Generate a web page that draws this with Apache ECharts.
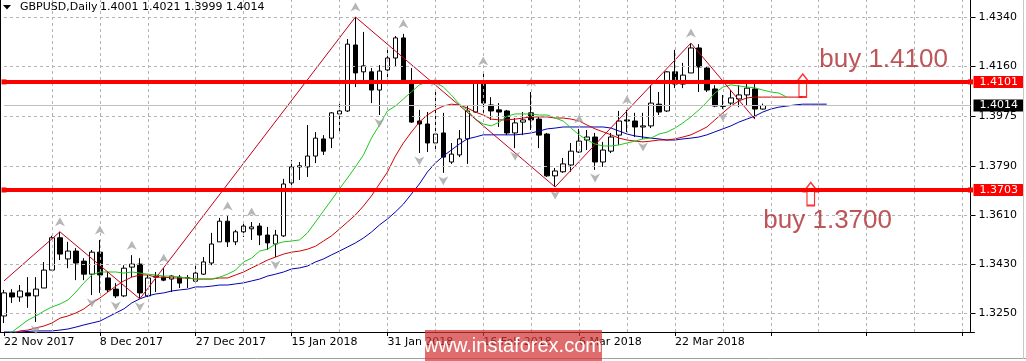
<!DOCTYPE html>
<html><head><meta charset="utf-8">
<script src="https://cdn.jsdelivr.net/npm/echarts@6/dist/echarts.min.js"></script>
<style>html,body{margin:0;padding:0;background:#fff}#c{width:1026px;height:361px}</style>
</head><body><div id="c"></div>
<script>
const symbolName = 'GBPUSD,Daily';
const dates = ['22 Nov 2017','23 Nov 2017','24 Nov 2017','27 Nov 2017','28 Nov 2017','29 Nov 2017','30 Nov 2017',
'1 Dec 2017','4 Dec 2017','5 Dec 2017','6 Dec 2017','7 Dec 2017','8 Dec 2017','11 Dec 2017','12 Dec 2017','13 Dec 2017','14 Dec 2017','15 Dec 2017','18 Dec 2017','19 Dec 2017','20 Dec 2017','21 Dec 2017','22 Dec 2017','26 Dec 2017','27 Dec 2017','28 Dec 2017','29 Dec 2017',
'2 Jan 2018','3 Jan 2018','4 Jan 2018','5 Jan 2018','8 Jan 2018','9 Jan 2018','10 Jan 2018','11 Jan 2018','12 Jan 2018','15 Jan 2018','16 Jan 2018','17 Jan 2018','18 Jan 2018','19 Jan 2018','22 Jan 2018','23 Jan 2018','24 Jan 2018','25 Jan 2018','26 Jan 2018','29 Jan 2018','30 Jan 2018','31 Jan 2018',
'1 Feb 2018','2 Feb 2018','5 Feb 2018','6 Feb 2018','7 Feb 2018','8 Feb 2018','9 Feb 2018','12 Feb 2018','13 Feb 2018','14 Feb 2018','15 Feb 2018','16 Feb 2018','19 Feb 2018','20 Feb 2018','21 Feb 2018','22 Feb 2018','23 Feb 2018','26 Feb 2018','27 Feb 2018','28 Feb 2018',
'1 Mar 2018','2 Mar 2018','5 Mar 2018','6 Mar 2018','7 Mar 2018','8 Mar 2018','9 Mar 2018','12 Mar 2018','13 Mar 2018','14 Mar 2018','15 Mar 2018','16 Mar 2018','19 Mar 2018','20 Mar 2018','21 Mar 2018','22 Mar 2018','23 Mar 2018','26 Mar 2018','27 Mar 2018','28 Mar 2018','29 Mar 2018','30 Mar 2018',
'2 Apr 2018','3 Apr 2018','4 Apr 2018','5 Apr 2018','6 Apr 2018'];

const opens = [1.3239,1.3324,1.3309,1.3324,1.3313,1.3342,1.3408,1.3527,1.3449,1.3478,
1.3441,1.3393,1.3474,1.3379,1.3338,1.3313,1.3419,1.3430,1.3313,1.3382,
1.3382,1.3375,1.3382,1.3379,1.3367,1.3393,1.3434,1.3512,1.3588,1.3512,
1.3549,1.3560,1.3570,1.3537,1.3504,1.3534,1.3729,1.3788,1.3788,1.3828,
1.3891,1.3894,1.3983,1.3994,1.4237,1.4138,1.4138,1.4071,1.4145,1.4189,
1.4263,1.4100,1.3957,1.3946,1.3876,1.3913,1.3806,1.3832,1.3891,1.3990,
1.4097,1.4016,1.3998,1.3994,1.3913,1.3953,1.3987,1.3964,1.3909,1.3755,
1.3770,1.3795,1.3843,1.3887,1.3898,1.3806,1.3846,1.3905,1.3961,1.3957,
1.3935,1.3939,1.4019,1.3994,1.4138,1.4093,1.4134,1.4226,1.4152,1.4075,
1.4012,1.4023,1.4038,1.4053,1.4075,1.4001];
const closes = [1.3324,1.3309,1.3331,1.3313,1.3338,1.3408,1.3527,1.3467,1.3478,1.3434,
1.3393,1.3474,1.3390,1.3335,1.3313,1.3415,1.3430,1.3324,1.3379,1.3386,
1.3371,1.3386,1.3360,1.3380,1.3397,1.3438,1.3504,1.3588,1.3512,1.3549,
1.3570,1.3567,1.3537,1.3508,1.3537,1.3725,1.3788,1.3792,1.3828,1.3894,
1.3846,1.3987,1.3994,1.4240,1.4134,1.4160,1.4071,1.4141,1.4189,1.4263,
1.4104,1.3953,1.3946,1.3876,1.3909,1.3824,1.3835,1.3891,1.3994,1.4097,
1.4023,1.3994,1.3990,1.3913,1.3950,1.3961,1.3961,1.3905,1.3755,1.3773,
1.3799,1.3846,1.3883,1.3898,1.3806,1.3850,1.3898,1.3957,1.3957,1.3935,
1.3939,1.4023,1.3990,1.4138,1.4093,1.4126,1.4226,1.4156,1.4071,1.4012,
1.4011,1.4042,1.4053,1.4078,1.4001,1.4014];
const highs = [1.3335,1.3338,1.3353,1.3382,1.3382,1.3438,1.3534,1.3549,1.3512,1.3489,
1.3452,1.3482,1.3519,1.3401,1.3360,1.3426,1.3463,1.3452,1.3390,1.3401,
1.3415,1.3390,1.3390,1.3390,1.3430,1.3456,1.3545,1.3600,1.3607,1.3556,
1.3581,1.3585,1.3581,1.3567,1.3556,1.3744,1.3813,1.3806,1.3942,1.3916,
1.3905,1.3990,1.4027,1.4259,1.4340,1.4285,1.4152,1.4163,1.4229,1.4270,
1.4278,1.4152,1.3998,1.3990,1.4064,1.3987,1.3876,1.3924,1.4012,1.4101,
1.4141,1.4045,1.4023,1.3998,1.3968,1.3990,1.4064,1.3972,1.3913,1.3784,
1.3821,1.3876,1.3928,1.3924,1.3913,1.3880,1.3913,1.3994,1.3998,1.3987,
1.3987,1.4089,1.4064,1.4141,1.4219,1.4171,1.4244,1.4240,1.4156,1.4089,
1.4053,1.4071,1.4089,1.4097,1.4097,1.4021];
const lows = [1.3213,1.3287,1.3291,1.3269,1.3217,1.3342,1.3408,1.3445,1.3415,1.3371,
1.3371,1.3316,1.3324,1.3327,1.3305,1.3309,1.3382,1.3302,1.3309,1.3327,
1.3367,1.3327,1.3342,1.3342,1.3364,1.3390,1.3426,1.3512,1.3493,1.3500,
1.3530,1.3519,1.3500,1.3482,1.3456,1.3530,1.3721,1.3740,1.3751,1.3802,
1.3832,1.3857,1.3913,1.3990,1.4082,1.4108,1.4023,1.3979,1.4119,1.4156,
1.4097,1.3950,1.3839,1.3843,1.3843,1.3766,1.3799,1.3824,1.3799,1.3987,
1.3987,1.3961,1.3935,1.3905,1.3857,1.3905,1.3924,1.3857,1.3751,1.3714,
1.3766,1.3770,1.3839,1.3850,1.3777,1.3788,1.3839,1.3869,1.3916,1.3898,
1.3891,1.3931,1.3979,1.3990,1.4078,1.4078,1.4134,1.4064,1.4064,1.4008,
1.4001,1.4016,1.4008,1.4012,1.3964,1.3999];

// Alligator (already shifted forward, as drawn)
const jaw = [1.3180,1.3180,1.3180,1.3182,1.3184,1.3184,1.3184,1.3187,1.3191,1.3198,
1.3206,1.3213,1.3220,1.3235,1.3250,1.3265,1.3287,1.3302,1.3313,1.3320,
1.3324,1.3331,1.3335,1.3338,1.3346,1.3346,1.3349,1.3353,1.3353,1.3357,
1.3361,1.3368,1.3375,1.3386,1.3393,1.3401,1.3412,1.3416,1.3423,1.3438,
1.3449,1.3464,1.3478,1.3493,1.3508,1.3526,1.3548,1.3574,1.3596,1.3622,
1.3651,1.3688,1.3725,1.3769,1.3802,1.3828,1.3850,1.3872,1.3891,1.3898,
1.3906,1.3906,1.3906,1.3906,1.3906,1.3909,1.3913,1.3920,1.3928,1.3931,
1.3935,1.3935,1.3935,1.3935,1.3935,1.3935,1.3931,1.3920,1.3909,1.3902,
1.3898,1.3894,1.3891,1.3887,1.3887,1.3891,1.3894,1.3898,1.3906,1.3917,
1.3928,1.3939,1.3953,1.3964,1.3975,1.3990,1.4001,1.4008,1.4012,1.4016,
1.4019,1.4019,1.4019,1.4019];
const teeth = [1.3169,1.3173,1.3184,1.3187,1.3195,1.3202,1.3213,1.3231,1.3239,1.3250,
1.3265,1.3287,1.3305,1.3327,1.3349,1.3368,1.3382,1.3390,1.3390,1.3382,
1.3382,1.3379,1.3379,1.3379,1.3375,1.3375,1.3375,1.3379,1.3379,1.3390,
1.3401,1.3416,1.3430,1.3445,1.3456,1.3467,1.3474,1.3478,1.3485,1.3496,
1.3515,1.3534,1.3559,1.3585,1.3611,1.3644,1.3681,1.3725,1.3769,1.3828,
1.3876,1.3916,1.3953,1.3979,1.3998,1.4012,1.4019,1.4016,1.4005,1.3990,
1.3979,1.3964,1.3961,1.3961,1.3964,1.3968,1.3972,1.3972,1.3972,1.3968,
1.3968,1.3964,1.3957,1.3942,1.3928,1.3917,1.3906,1.3894,1.3887,1.3883,
1.3880,1.3883,1.3887,1.3887,1.3891,1.3898,1.3906,1.3920,1.3935,1.3961,
1.3987,1.4012,1.4031,1.4042,1.4045,1.4045,1.4045,1.4045,1.4045,1.4045,
1.4045];
const lips = [1.3165,1.3180,1.3202,1.3224,1.3239,1.3257,1.3272,1.3283,1.3298,1.3327,
1.3361,1.3390,1.3401,1.3401,1.3401,1.3397,1.3401,1.3397,1.3393,1.3390,
1.3386,1.3386,1.3382,1.3379,1.3375,1.3375,1.3375,1.3382,1.3393,1.3408,
1.3438,1.3452,1.3478,1.3485,1.3504,1.3512,1.3515,1.3519,1.3545,1.3585,
1.3626,1.3666,1.3707,1.3747,1.3788,1.3832,1.3894,1.3942,1.3994,1.4012,
1.4038,1.4064,1.4090,1.4101,1.4101,1.4082,1.4053,1.4019,1.3998,1.3964,
1.3946,1.3939,1.3953,1.3975,1.3983,1.3983,1.3983,1.3979,1.3979,1.3968,
1.3957,1.3931,1.3906,1.3887,1.3872,1.3865,1.3865,1.3869,1.3876,1.3883,
1.3891,1.3894,1.3909,1.3916,1.3931,1.3950,1.3972,1.3998,1.4027,1.4060,
1.4082,1.4090,1.4086,1.4082,1.4079,1.4071,1.4064,1.4060,1.4045];

const zigzag = [[0,1.3368],[7,1.3549],[17,1.3302],[44,1.4340],[69,1.3714],[86,1.4244],[94,1.3964]];
const fractalUp = [7,12,16,20,28,31,44,50,54,60,66,72,78,86];
const fractalDown = [4,11,14,17,34,47,52,55,64,69,74,80,90];

const yTicks = [1.4340,1.4160,1.3975,1.3790,1.3610,1.3430,1.3250];
const levels = [1.4101,1.3703];
const lastPrice = 1.4014;
const buyNotes = [{name:'buy 1.4100', value:[102,1.4182]},{name:'buy 1.3700', value:[95,1.3589]}];
const buyArrows = [[100,1.4088],[101,1.3688]];

const Y_MIN = 1.3180, Y_MAX = 1.44026;
const N = 122;
const cats = dates.slice();
for (let i = dates.length; i < N; i++) cats.push('~' + i);

const font = 'DejaVu Sans';
const upArrow = 'path://M5,0 L10,9 L5,6.5 L0,9 Z';
const downArrow = 'path://M0,0 L5,2.5 L10,0 L5,9 Z';
const buyArrowPath = 'path://M6.5,0 L13,9 L10,9 L10,23 L3,23 L3,9 L0,9 Z';

const vGrid = [];
for (let i = 6; i < N; i += 6) vGrid.push({xAxis: i});
const hGrid = yTicks.map(v => [{coord:[0, v]}, {coord:[N - 1, v]}]);

const chart = echarts.init(document.getElementById('c'), null, {renderer:'canvas'});
const last = opens.length - 1;
chart.setOption({
  animation: false,
  backgroundColor: '#ffffff',
  grid: {left: -1.5, top: 0, width: 976, height: 332, containLabel: false},
  xAxis: {
    type: 'category', data: cats, boundaryGap: true,
    axisLine: {show: true, lineStyle: {color: '#000', width: 1}},
    axisTick: {show: true, interval: 11, alignWithLabel: true, length: 4, lineStyle: {color: '#000'}},
    axisLabel: {interval: 11, align: 'left', margin: 5, color: '#000', fontSize: 11, fontFamily: font,
      formatter: v => (v.charAt(0) === '~' ? '' : v)},
    splitLine: {show: false}
  },
  yAxis: {
    type: 'value', position: 'right', min: Y_MIN, max: Y_MAX, offset: -4,
    axisLine: {show: true, lineStyle: {color: '#000', width: 1}},
    axisTick: {show: true, length: 5, customValues: yTicks, lineStyle: {color: '#000'}},
    axisLabel: {customValues: yTicks, margin: 8, color: '#000', fontSize: 11, fontFamily: font,
      formatter: v => v.toFixed(4)},
    splitLine: {show: false}
  },
  graphic: [
    {type: 'line', shape: {x1: 0.5, y1: 0, x2: 0.5, y2: 332}, style: {stroke: '#000', lineWidth: 1}, z: 10},
    {type: 'line', shape: {x1: 0, y1: 358.5, x2: 1026, y2: 358.5}, style: {stroke: '#a0a0a0', lineWidth: 1}, z: 10},
    {type: 'line', shape: {x1: 1023.5, y1: 0, x2: 1023.5, y2: 359}, style: {stroke: '#c8c8c8', lineWidth: 1}, z: 10},
    {type: 'polygon', shape: {points: [[3, 5], [11, 5], [7, 9.5]]}, style: {fill: '#000'}, z: 10},
    {type: 'text', x: 20, y: 7, style: {text: symbolName, font: '11px ' + font, fill: '#000', textVerticalAlign: 'middle'}, z: 10},
    {type: 'text', x: 100, y: 7, style: {text: [opens[last], highs[last], lows[last], closes[last]].map(v => v.toFixed(4)).join(' '),
      font: '11px ' + font, fill: '#000', textVerticalAlign: 'middle'}, z: 10},
    {type: 'rect', shape: {x: 425, y: 330, width: 177, height: 31}, style: {fill: 'rgba(212,52,52,0.72)'}, z: 20},
    {type: 'text', x: 513, y: 346, style: {text: 'www.instaforex.com', font: '20px "Liberation Sans Narrow", "Liberation Sans"',
      fill: '#ffffff', textAlign: 'center', textVerticalAlign: 'middle'}, z: 21}
  ],
  series: [
    {type: 'line', name: 'grid', data: [], z: 1, silent: true,
      markLine: {silent: true, symbol: ['none', 'none'], animation: false, label: {show: false},
        lineStyle: {color: '#b4b4b4', width: 1, type: [3, 3]},
        data: vGrid.concat(hGrid)}},
    {type: 'line', name: 'bid', data: [], z: 1, silent: true,
      markLine: {silent: true, symbol: ['none', 'none'], animation: false,
        lineStyle: {color: '#c0c0c0', width: 1, type: 'solid'},
        label: {show: true, position: 'end', distance: 3, formatter: '{b}', color: '#fff', backgroundColor: '#000',
          padding: [1, 6, 0, 6], fontSize: 11, fontFamily: font},
        data: [[{coord: [0, lastPrice], name: lastPrice.toFixed(4)}, {coord: [N - 1, lastPrice]}]]}},
    {type: 'candlestick', name: 'GBPUSD', z: 2, barWidth: 5,
      data: opens.map((o, i) => [o, closes[i], lows[i], highs[i]]),
      itemStyle: {color: '#ffffff', color0: '#000000', borderColor: '#000000', borderColor0: '#000000', borderWidth: 1}},
    {type: 'line', name: 'Jaw', data: jaw, z: 3, showSymbol: false, symbol: 'none', lineStyle: {color: '#0000b4', width: 1}},
    {type: 'line', name: 'Teeth', data: teeth, z: 3, showSymbol: false, symbol: 'none', lineStyle: {color: '#d00000', width: 1}},
    {type: 'line', name: 'Lips', data: lips, z: 3, showSymbol: false, symbol: 'none', lineStyle: {color: '#1ec81e', width: 1}},
    {type: 'line', name: 'ZigZag', data: zigzag, z: 3, showSymbol: false, symbol: 'none', lineStyle: {color: '#c0001c', width: 1}},
    {type: 'scatter', name: 'FractalUp', z: 3, symbol: upArrow, symbolSize: [10, 9], symbolOffset: [0, -10],
      itemStyle: {color: '#a4a4a4'}, data: fractalUp.map(i => [i, highs[i]])},
    {type: 'scatter', name: 'FractalDown', z: 3, symbol: downArrow, symbolSize: [10, 9], symbolOffset: [0, 8],
      itemStyle: {color: '#a4a4a4'}, data: fractalDown.map(i => [i, lows[i]])},
    {type: 'line', name: 'levels', data: [], z: 5, silent: true,
      markLine: {silent: true, symbol: ['rect', 'rect'], symbolSize: 5, animation: false,
        lineStyle: {color: '#ff0000', width: 4, type: 'solid'},
        label: {show: true, position: 'end', distance: 3, formatter: '{b}', color: '#fff', backgroundColor: '#ff0000',
          padding: [1, 6, 0, 6], fontSize: 11, fontFamily: font},
        data: levels.map(v => [{coord: [0, v], name: v.toFixed(4)}, {coord: [N - 1, v]}])}},
    {type: 'scatter', name: 'buyArrows', z: 6, symbol: buyArrowPath, symbolSize: [14, 23],
      itemStyle: {color: 'rgba(255,255,255,0)', borderColor: '#ff0000', borderWidth: 1.5}, data: buyArrows},
    {type: 'scatter', name: 'buyNotes', z: 6, symbolSize: 1, itemStyle: {color: 'rgba(0,0,0,0)'},
      label: {show: true, position: 'right', distance: 0, formatter: '{b}', color: '#ac2a30', fontSize: 26,
        fontFamily: 'Liberation Sans'}, data: buyNotes}
  ]
});
</script></body></html>
